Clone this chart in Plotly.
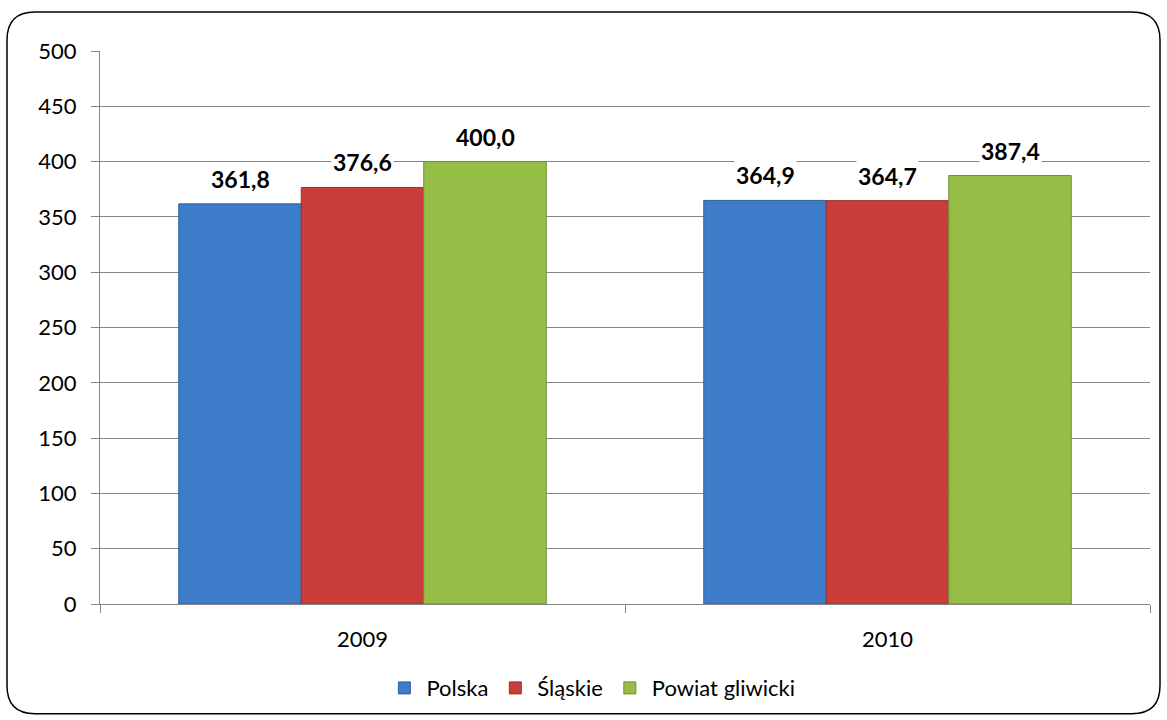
import plotly.graph_objects as go

categories = ["2009", "2010"]
series_names = ["Polska", "Śląskie", "Powiat gliwicki"]
polska = [361.8, 364.9]
slaskie = [376.6, 364.7]
powiat = [400.0, 387.4]
value_labels = [["361,8", "364,9"], ["376,6", "364,7"], ["400,0", "387,4"]]
y_ticks = [0, 50, 100, 150, 200, 250, 300, 350, 400, 450, 500]

colors = ["#3d7cc9", "#c93e3a", "#96be47"]
line_colors = ["#2f5f9c", "#9a2e2b", "#6f8e33"]
FONT = "Lato"
BARGAP = 0.3

W, H = 1167, 720
ML, MR, MT, MB = 100, 17, 51, 115

fig = go.Figure()
all_series = [polska, slaskie, powiat]
for name, vals, c, lc in zip(series_names, all_series, colors, line_colors):
    fig.add_trace(go.Bar(
        x=categories, y=vals, name=name,
        marker=dict(color=c, line=dict(color=lc, width=1)),
    ))

# data labels with white background, placed at bar centres
n = len(all_series)
bw = (1 - BARGAP) / n
annotations = []
for si, vals in enumerate(all_series):
    off = -(1 - BARGAP) / 2 + bw * (si + 0.5)
    for ci, v in enumerate(vals):
        annotations.append(dict(
            x=ci + off, y=v, xref="x", yref="y",
            text="<b>" + value_labels[si][ci] + "</b>",
            showarrow=False, yanchor="bottom", yshift=9,
            font=dict(family=FONT, size=23, color="#000000"),
            bgcolor="#ffffff", borderpad=1,
        ))

# rounded frame around chart (paper coords relative to plot area)
pw, ph = W - ML - MR, H - MT - MB
def px(x):
    return (x - ML) / pw
def py(y):
    return (H - MB - y) / ph
x0, x1, y0, y1, r = 7, 1160, 12, 715, 28
path = (
    f"M {px(x0 + r)} {py(y0)} L {px(x1 - r)} {py(y0)} "
    f"Q {px(x1)} {py(y0)} {px(x1)} {py(y0 + r)} "
    f"L {px(x1)} {py(y1 - r)} Q {px(x1)} {py(y1)} {px(x1 - r)} {py(y1)} "
    f"L {px(x0 + r)} {py(y1)} Q {px(x0)} {py(y1)} {px(x0)} {py(y1 - r)} "
    f"L {px(x0)} {py(y0 + r)} Q {px(x0)} {py(y0)} {px(x0 + r)} {py(y0)} Z"
)

fig.update_layout(
    width=W, height=H,
    margin=dict(l=ML, r=MR, t=MT, b=MB),
    paper_bgcolor="#ffffff", plot_bgcolor="#ffffff",
    barmode="group", bargap=BARGAP, bargroupgap=0,
    font=dict(family=FONT, size=22, color="#000000"),
    showlegend=True,
    legend=dict(orientation="h", x=0.468, xanchor="center", y=-0.15, yanchor="middle",
                font=dict(family=FONT, size=22), itemwidth=34, traceorder="normal"),
    annotations=annotations,
    shapes=[dict(type="path", path=path, xref="paper", yref="paper",
                 line=dict(color="#000000", width=1.5), layer="below")],
)
fig.update_xaxes(
    showline=True, linecolor="#868686", linewidth=1,
    ticks="outside", tickson="boundaries", ticklen=8, tickcolor="#868686",
    ticklabelstandoff=16, showgrid=False,
)
fig.update_yaxes(
    range=[0, 500], tickvals=y_ticks, showline=True, linecolor="#868686", linewidth=1,
    ticks="outside", ticklen=8, tickcolor="#868686", ticklabelstandoff=10,
    showgrid=True, gridcolor="#868686", gridwidth=1, zeroline=False,
)

fig.write_html("out.html", config={"displayModeBar": False},
               post_script="document.body.style.margin='0';")
